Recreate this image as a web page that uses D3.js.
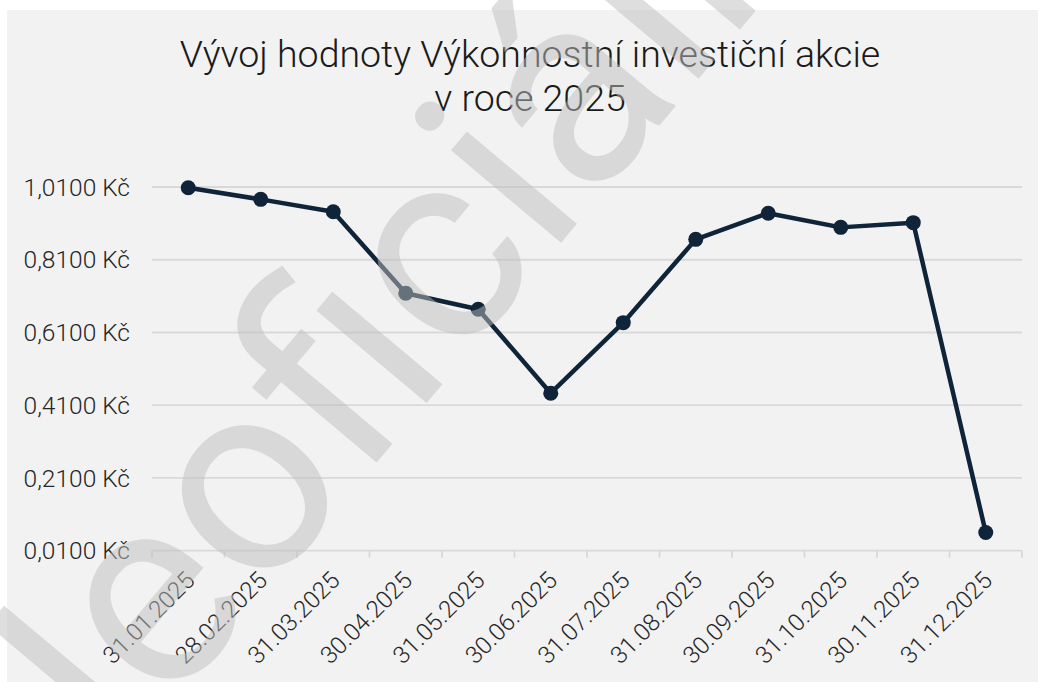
<!DOCTYPE html>
<html>

<head>
  <meta charset="utf8">
  <script src="https://d3js.org/d3.v7.min.js"></script>
  <style>
    body { margin: 0; background: #fff; }
    text { font-family: Roboto, 'Noto Sans', sans-serif; }
  </style>
</head>

<body>
  <svg id="chart" width="1038" height="682"></svg>
  <script>
    // data
    var dates = ['31.01.2025', '28.02.2025', '31.03.2025', '30.04.2025', '31.05.2025', '30.06.2025',
      '31.07.2025', '31.08.2025', '30.09.2025', '31.10.2025', '30.11.2025', '31.12.2025'];
    var values = [1.008, 0.976, 0.942, 0.718, 0.674, 0.443, 0.637, 0.866, 0.938, 0.899, 0.912, 0.060];
    var yTicks = [0.01, 0.21, 0.41, 0.61, 0.81, 1.01];
    var titleLines = ['Vývoj hodnoty Výkonnostní investiční akcie', 'v roce 2025'];
    var watermark = 'Neoficiální';

    var chart = d3.select('#chart');
    var plot = { left: 152, right: 1022, top: 187, bottom: 550.7 };

    var cz = d3.formatLocale({ decimal: ',', thousands: ' ', grouping: [3], currency: ['', ' Kč'] });
    var fmt = cz.format('$.4f');

    var x = d3.scaleBand().domain(dates).range([plot.left, plot.right]);
    var y = d3.scaleLinear().domain([0.01, 1.01]).range([plot.bottom, plot.top]);

    chart.append('rect')
      .attr('x', 7).attr('y', 10)
      .attr('width', 1031).attr('height', 672)
      .attr('fill', '#f2f2f2');

    // title
    chart.append('text')
      .attr('x', 530).attr('y', 67)
      .attr('text-anchor', 'middle')
      .attr('font-size', 37.5)
      .attr('font-weight', 300)
      .attr('fill', '#1a1a1a')
      .selectAll('tspan')
      .data(titleLines)
      .enter()
      .append('tspan')
      .attr('x', 530)
      .attr('dy', (d, i) => i ? 43.5 : 0)
      .text((d) => d);

    // gridlines + y labels
    var yAxis = chart.append('g').attr('class', 'y-axis');
    yAxis.selectAll('line')
      .data(yTicks)
      .enter()
      .append('line')
      .attr('x1', plot.left).attr('x2', plot.right)
      .attr('y1', (d) => y(d)).attr('y2', (d) => y(d))
      .attr('stroke', '#d9d9d9')
      .attr('stroke-width', 1.8);
    yAxis.selectAll('text')
      .data(yTicks)
      .enter()
      .append('text')
      .attr('x', 130)
      .attr('y', (d) => y(d))
      .attr('dy', '0.35em')
      .attr('text-anchor', 'end')
      .attr('font-size', 24.5)
      .attr('font-weight', 300)
      .attr('fill', '#262626')
      .text((d) => fmt(d));

    // x axis ticks between categories
    var xAxis = chart.append('g').attr('class', 'x-axis');
    var bounds = dates.map((d) => x(d)).concat([x(dates[dates.length - 1]) + x.bandwidth()]);
    xAxis.selectAll('line')
      .data(bounds)
      .enter()
      .append('line')
      .attr('x1', (d) => d).attr('x2', (d) => d)
      .attr('y1', plot.bottom).attr('y2', plot.bottom + 7)
      .attr('stroke', '#d9d9d9')
      .attr('stroke-width', 1.8);
    xAxis.selectAll('text')
      .data(dates)
      .enter()
      .append('text')
      .attr('transform', (d) => 'translate(' + (x(d) + x.bandwidth() / 2 + 2) + ',' + 576 + ') rotate(-45)')
      .attr('dy', '0.35em')
      .attr('text-anchor', 'end')
      .attr('font-size', 24)
      .attr('font-weight', 300)
      .attr('fill', '#262626')
      .text((d) => d);

    // line + markers
    var pts = dates.map((d, i) => ({ date: d, value: values[i] }));
    var line = d3.line()
      .x((d) => x(d.date) + x.bandwidth() / 2)
      .y((d) => y(d.value));

    chart.append('path')
      .datum(pts)
      .attr('d', line)
      .attr('fill', 'none')
      .attr('stroke', '#0f2439')
      .attr('stroke-width', 4.5)
      .attr('stroke-linejoin', 'round');

    chart.selectAll('.dot')
      .data(pts)
      .enter()
      .append('circle')
      .attr('class', 'dot')
      .attr('cx', (d) => x(d.date) + x.bandwidth() / 2)
      .attr('cy', (d) => y(d.value))
      .attr('r', 7.5)
      .attr('fill', '#0f2439');

    // watermark over everything
    chart.append('text')
      .attr('transform', 'translate(382,308) rotate(-50)')
      .attr('text-anchor', 'middle')
      .attr('dy', '0.35em')
      .attr('font-family', "'Liberation Sans', Arial, sans-serif")
      .attr('font-size', 272)
      .attr('fill', 'rgb(190,190,190)')
      .attr('fill-opacity', 0.5)
      .text(watermark);
  </script>
</body>

</html>
